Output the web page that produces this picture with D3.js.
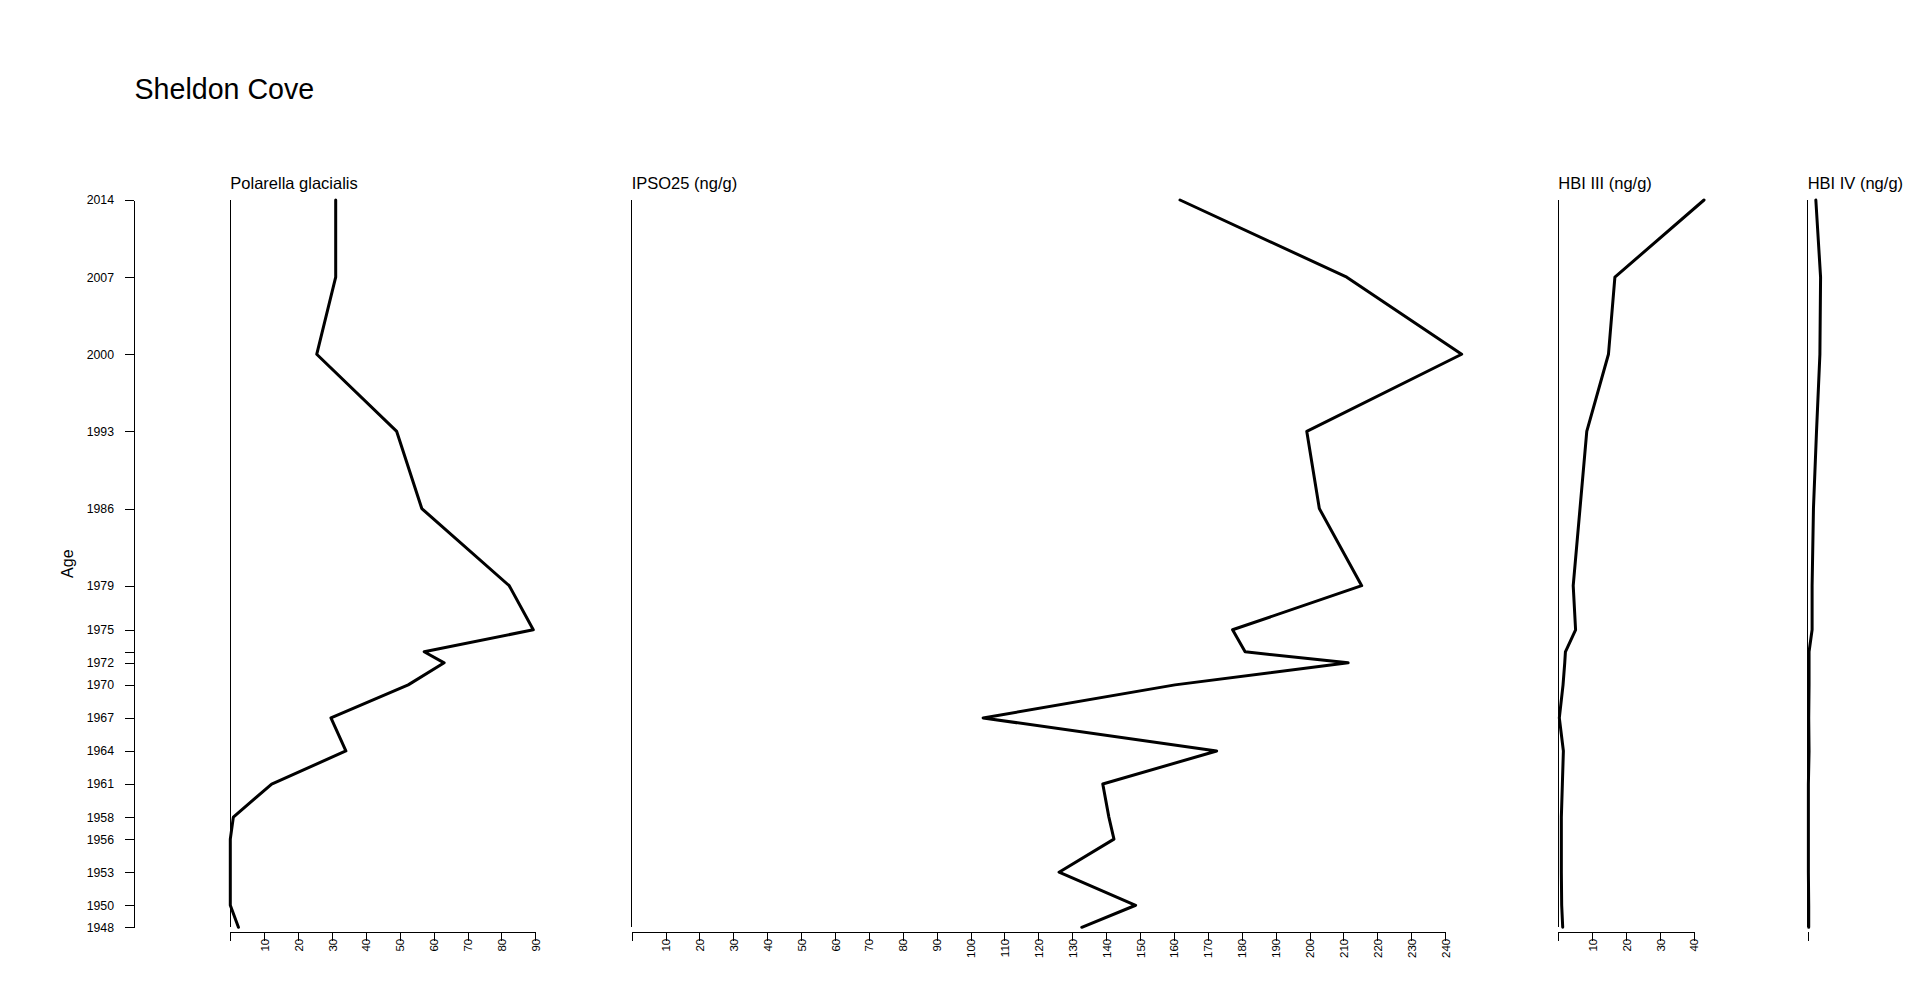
<!DOCTYPE html>
<html>
<head>
<meta charset="utf-8">
<script src="https://cdn.jsdelivr.net/npm/d3@7"></script>
<style>
  html, body { margin: 0; padding: 0; background: #fff; }
  svg { display: block; font-family: "Liberation Sans", Arial, sans-serif; }
</style>
</head>
<body>
<svg id="chart" width="1920" height="997"></svg>
<script>
// ---- data ----
const ages = [2014, 2007, 2000, 1993, 1986, 1979, 1975, 1973, 1972, 1970, 1967, 1964, 1961, 1958, 1956, 1953, 1950, 1948];
const polarella = [31.1, 31.1, 25.5, 49.1, 56.5, 82.3, 89.4, 57.2, 63.1, 52.5, 29.7, 34.1, 12.2, 0.9, 0, 0, 0, 2.4];
const ipso25 = [161.8, 211.0, 244.9, 199.2, 202.9, 215.4, 177.3, 181.0, 211.4, 160.3, 103.7, 172.6, 139.0, 140.8, 142.3, 126.1, 148.7, 132.8];
const hbi3 = [43.0, 16.7, 14.8, 8.4, 6.4, 4.4, 5.1, 2.1, 1.9, 1.4, 0.3, 1.5, 1.2, 0.9, 0.9, 0.9, 1.0, 1.3];
const hbi4 = [2.4, 3.8, 3.6, 2.6, 1.7, 1.3, 1.3, 0.4, 0.4, 0.4, 0.3, 0.4, 0.2, 0.2, 0.2, 0.2, 0.3, 0.3];

const ageTicks = [2014, 2007, 2000, 1993, 1986, 1979, 1975, 1973, 1972, 1970, 1967, 1964, 1961, 1958, 1956, 1953, 1950, 1948];
const ageTickLabels = ["2014", "2007", "2000", "1993", "1986", "1979", "1975", "", "1972", "1970", "1967", "1964", "1961", "1958", "1956", "1953", "1950", "1948"];

const polarellaTicks = [0, 10, 20, 30, 40, 50, 60, 70, 80, 90];
const ipsoTicks = [0, 10, 20, 30, 40, 50, 60, 70, 80, 90, 100, 110, 120, 130, 140, 150, 160, 170, 180, 190, 200, 210, 220, 230, 240];
const hbi3Ticks = [0, 10, 20, 30, 40];
const hbi4Ticks = [0];

const titles = ["Polarella glacialis", "IPSO25 (ng/g)", "HBI III (ng/g)", "HBI IV (ng/g)"];
const mainTitle = "Sheldon Cove";
const yTitle = "Age";

// ---- layout ----
const svg = d3.select("#chart");
const yTop = 200, yBot = 927.3, xAxisY = 932.3;
const pxPerUnit = 3.389;

const y = d3.scaleLinear().domain([1948, 2014]).range([yBot, yTop]);

svg.append("text")
  .attr("x", 134.5).attr("y", 99)
  .attr("font-size", 28.6).attr("fill", "#000")
  .text(mainTitle);

// y axis
const yAxisX = 134;
const yAxis = d3.axisLeft(y)
  .tickValues(ageTicks)
  .tickFormat((d, i) => ageTickLabels[i])
  .tickSize(9).tickSizeOuter(0).tickPadding(11);
const yg = svg.append("g").attr("transform", `translate(${yAxisX},0)`).call(yAxis);
yg.selectAll("text").attr("font-size", 12.3).attr("font-family", "Liberation Sans, Arial, sans-serif").attr("fill", "#000");
yg.selectAll("line, path").attr("stroke", "#000").attr("stroke-width", 1).attr("shape-rendering", "crispEdges");

svg.append("text")
  .attr("transform", `translate(73,${(yTop + yBot) / 2}) rotate(-90)`)
  .attr("text-anchor", "middle")
  .attr("font-size", 16).attr("fill", "#000")
  .text(yTitle);

const panels = [
  { x0: 230.3, max: 90, ticks: polarellaTicks, values: polarella, title: titles[0] },
  { x0: 631.7, max: 240, ticks: ipsoTicks, values: ipso25, title: titles[1] },
  { x0: 1558.3, max: 40, ticks: hbi3Ticks, values: hbi3, title: titles[2] },
  { x0: 1807.7, max: 4, ticks: hbi4Ticks, values: hbi4, title: titles[3] }
];

panels.forEach(p => {
  const x = d3.scaleLinear().domain([0, p.max]).range([p.x0, p.x0 + p.max * pxPerUnit]);
  const g = svg.append("g");

  // title
  g.append("text")
    .attr("x", p.x0).attr("y", 189)
    .attr("font-size", 16.5).attr("fill", "#000")
    .text(p.title);

  // vertical baseline
  g.append("line")
    .attr("x1", x(0)).attr("x2", x(0))
    .attr("y1", y(2014)).attr("y2", y(1948))
    .attr("stroke", "#000").attr("stroke-width", 1)
    .attr("shape-rendering", "crispEdges");

  // curve
  const line = d3.line()
    .x((d, i) => x(d))
    .y((d, i) => y(ages[i]));
  g.append("path")
    .datum(p.values)
    .attr("d", line)
    .attr("fill", "none")
    .attr("stroke", "#000")
    .attr("stroke-width", 3)
    .attr("stroke-linejoin", "round")
    .attr("stroke-linecap", "round");

  // bottom axis
  const ax = d3.axisBottom(x)
    .tickValues(p.ticks)
    .tickFormat(d => d === 0 ? "" : String(d))
    .tickSize(9).tickSizeOuter(0);
  const xg = g.append("g").attr("transform", `translate(0,${xAxisY})`).call(ax);
  if (p.ticks.length < 2) xg.select(".domain").remove();
  else xg.select(".domain").attr("d", `M${x(p.ticks[0])},0H${x(p.ticks[p.ticks.length - 1])}`);
  xg.selectAll("line, path").attr("stroke", "#000").attr("stroke-width", 1).attr("shape-rendering", "crispEdges");
  xg.selectAll("text")
    .attr("transform", "rotate(-90)")
    .attr("text-anchor", "end")
    .attr("x", -6.5).attr("y", 0).attr("dy", "0.35em")
    .attr("font-size", 11.5)
    .attr("font-family", "Liberation Sans, Arial, sans-serif")
    .attr("fill", "#000");
});
</script>
</body>
</html>
